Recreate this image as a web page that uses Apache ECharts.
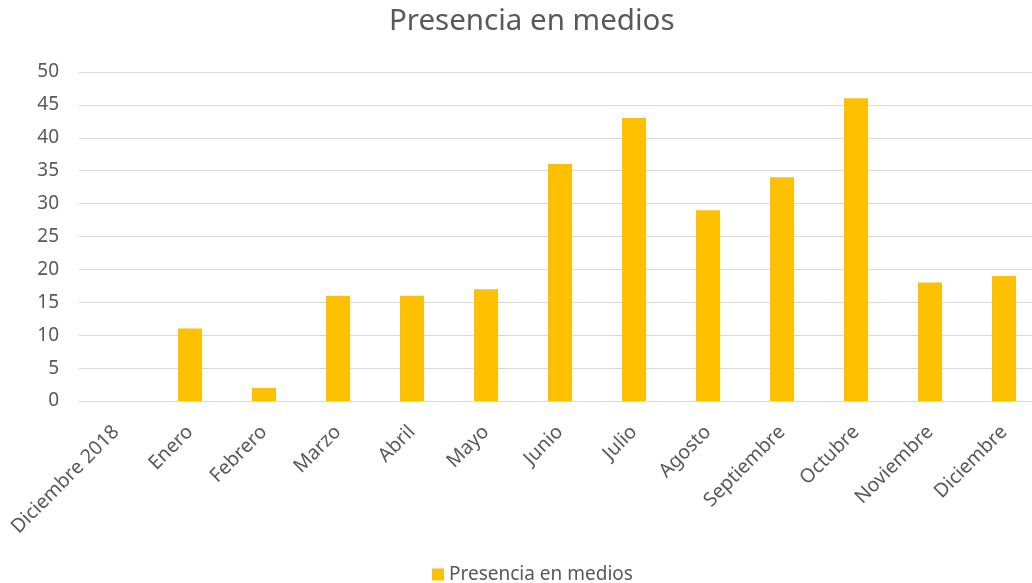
<!DOCTYPE html>
<html>
<head>
<meta charset="utf-8">
<script src="https://cdn.jsdelivr.net/npm/echarts@6/dist/echarts.min.js"></script>
<style>
  html, body { margin: 0; padding: 0; background: #fff; overflow: hidden; }
  /* el área de trazado del original continúa un poco más allá del borde derecho */
  #chart { width: 1041px; height: 583px; }
</style>
</head>
<body>
<div id="chart"></div>
<script>
// Datos
const meses = ['Diciembre 2018', 'Enero', 'Febrero', 'Marzo', 'Abril', 'Mayo', 'Junio',
  'Julio', 'Agosto', 'Septiembre', 'Octubre', 'Noviembre', 'Diciembre']
const presencia = [0, 11, 2, 16, 16, 17, 36, 43, 29, 34, 46, 18, 19]
const serieNombre = 'Presencia en medios'

const textColor = '#595959'
const gridColor = '#d9d9d9'
const fontFamily = '"Noto Sans", "Open Sans", sans-serif'

const chart = echarts.init(document.getElementById('chart'))

chart.setOption({
  animation: false,
  textStyle: { fontFamily: fontFamily },
  title: {
    text: serieNombre,
    left: 384,
    top: 2,
    textStyle: { color: textColor, fontSize: 29.5, fontWeight: 'normal', fontFamily: fontFamily }
  },
  legend: {
    top: 560,
    left: 427,
    itemWidth: 12,
    itemHeight: 12,
    icon: 'rect',
    itemGap: 6,
    textStyle: { color: textColor, fontSize: 19 },
    data: [serieNombre]
  },
  grid: { left: 79, top: 72, right: 0, bottom: 182 },
  xAxis: {
    type: 'category',
    data: meses,
    axisLine: { lineStyle: { color: gridColor } },
    axisTick: { show: false },
    axisLabel: { color: textColor, fontSize: 19.5, rotate: 45, interval: 0, margin: 28 }
  },
  yAxis: {
    type: 'value',
    min: 0,
    max: 50,
    interval: 5,
    axisLine: { show: false },
    axisTick: { show: false },
    splitLine: { lineStyle: { color: gridColor, width: 1 } },
    axisLabel: { color: textColor, fontSize: 19, margin: 20 }
  },
  series: [
    {
      name: serieNombre,
      type: 'bar',
      data: presencia,
      barWidth: 24,
      itemStyle: { color: '#ffc000' }
    }
  ]
})
</script>
</body>
</html>
